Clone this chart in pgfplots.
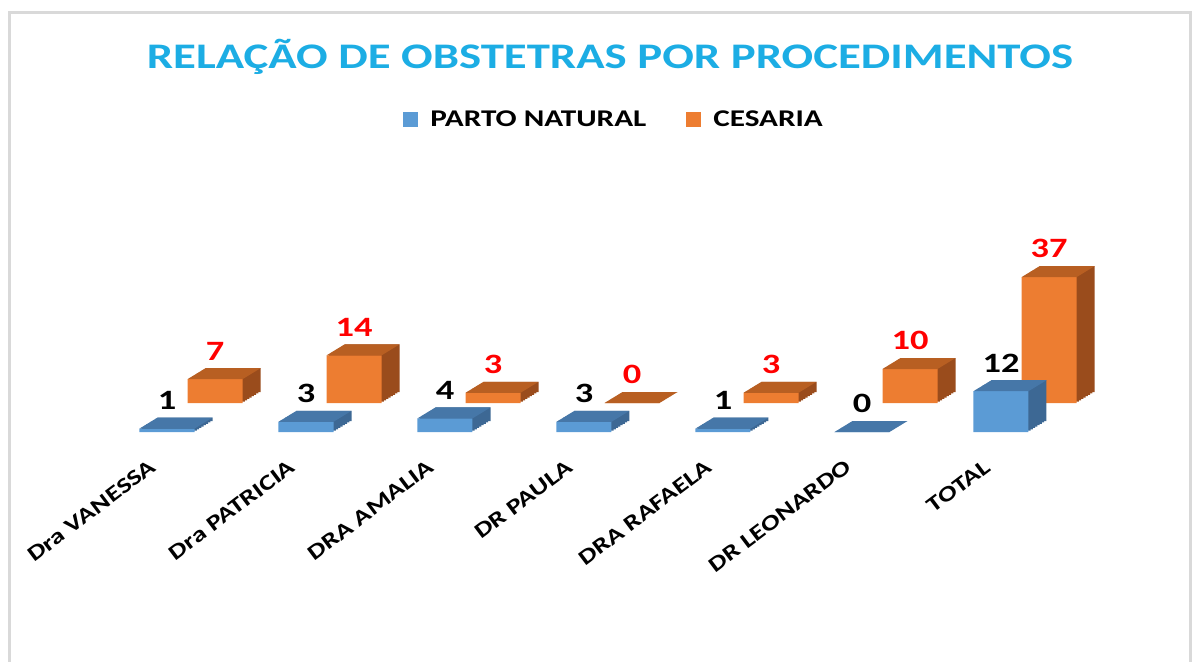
\documentclass[border=0pt]{standalone}
\usepackage{fontspec}
\setmainfont{Carlito}[FakeStretch=1.3]
\usepackage{pgfplots}
\pgfplotsset{compat=1.18}

\definecolor{bF}{HTML}{5B9BD5}
\definecolor{bT}{HTML}{4677A8}
\definecolor{bS}{HTML}{3D6894}
\definecolor{oF}{HTML}{ED7D31}
\definecolor{oT}{HTML}{B85F22}
\definecolor{oS}{HTML}{9A4C1C}
\definecolor{ttl}{HTML}{1CADE4}
\definecolor{frm}{HTML}{D9D9D9}

% top face of a 3d bar, drawn at the top centre of the front face
\pgfdeclareplotmark{topface}{%
  \pgfpathmoveto{\pgfqpoint{-13.75pt}{0pt}}%
  \pgfpathlineto{\pgfqpoint{13.75pt}{0pt}}%
  \pgfpathlineto{\pgfqpoint{22.75pt}{5.5pt}}%
  \pgfpathlineto{\pgfqpoint{-4.75pt}{5.5pt}}%
  \pgfpathclose
  \pgfusepathqfill}

\pgfplotstableread{
x y
0 1
1 3
2 4
3 3
4 1
5 0
6 12
}\natural
\pgfplotstableread{
x y
0 7
1 14
2 3
3 0
4 3
5 10
6 37
}\cesaria

\pgfplotsset{
  barbase/.style={
    scale only axis, width=486.5pt, height=68pt,
    xmin=-0.5, xmax=6.5, ymin=0, ymax=40,
    clip=false,
    /pgf/number format/assume math mode=true,
  },
  side/.style={ybar, bar width=27.5pt, bar shift=0pt, draw=none, fill=#1, forget plot},
}

\begin{document}
\begin{tikzpicture}
\useasboundingbox (0,0) rectangle (600pt,330.5pt);
\draw[frm, line width=1.5pt] (4.5pt,-2pt) -- (4.5pt,324.5pt) -- (595pt,324.5pt) -- (595pt,-2pt);

\node[font=\bfseries\fontsize{18}{20}\selectfont, text=ttl] at (305pt,302pt)
  {RELAÇÃO DE OBSTETRAS POR PROCEDIMENTOS};

% back row: cesaria
\begin{axis}[barbase, at={(72.75pt,129pt)}, anchor=south west, hide axis]
  \pgfplotsinvokeforeach{0.125,0.25,0.375,0.5,0.625,0.75,0.875,1}{
    \addplot[side=oS, xshift=#1*9pt, yshift=#1*5.5pt] table[x=x,y=y] {\cesaria};
  }
  \addplot[only marks, mark=topface, mark options={fill=oT, draw=none}, forget plot]
    table[x=x,y=y] {\cesaria};
  \addplot[ybar, bar width=27.5pt, bar shift=0pt, draw=none, fill=oF,
    nodes near coords,
    every node near coord/.append style={font=\bfseries\fontsize{14}{14}\selectfont,
      text=red, yshift=6pt}] table[x=x,y=y] {\cesaria};
\end{axis}

% front row: parto natural
\begin{axis}[barbase, at={(48.75pt,114.5pt)}, anchor=south west,
  hide y axis, axis x line*=bottom, x axis line style={draw=none},
  major tick length=0pt,
  xtick={0,...,6},
  xticklabels={Dra VANESSA, Dra PATRICIA, DRA AMALIA, DR PAULA, DRA RAFAELA, DR LEONARDO, TOTAL},
  xticklabel style={font=\bfseries\fontsize{10.8}{12}\selectfont, xshift=-4pt, yshift=-14pt,
    rotate=37, anchor=east},
  legend style={at={(0.532,2.294)}, anchor=center, draw=none, legend columns=2,
    font=\bfseries\fontsize{12}{13}\selectfont,
    /tikz/every odd column/.append style={column sep=4pt},
    /tikz/every even column/.append style={column sep=18pt}},
  legend image code/.code={\fill[#1] (0pt,-3.5pt) rectangle (7.5pt,4pt);},
]
  \pgfplotsinvokeforeach{0.125,0.25,0.375,0.5,0.625,0.75,0.875,1}{
    \addplot[side=bS, xshift=#1*9pt, yshift=#1*5.5pt] table[x=x,y=y] {\natural};
  }
  \addplot[only marks, mark=topface, mark options={fill=bT, draw=none}, forget plot]
    table[x=x,y=y] {\natural};
  \addplot[ybar, bar width=27.5pt, bar shift=0pt, draw=none, fill=bF,
    nodes near coords,
    every node near coord/.append style={font=\bfseries\fontsize{14}{14}\selectfont,
      text=black, yshift=6pt}] table[x=x,y=y] {\natural};
  \addlegendentry{PARTO NATURAL}
  \addlegendimage{fill=oF, draw=none}
  \addlegendentry{CESARIA}
\end{axis}
\end{tikzpicture}
\end{document}
